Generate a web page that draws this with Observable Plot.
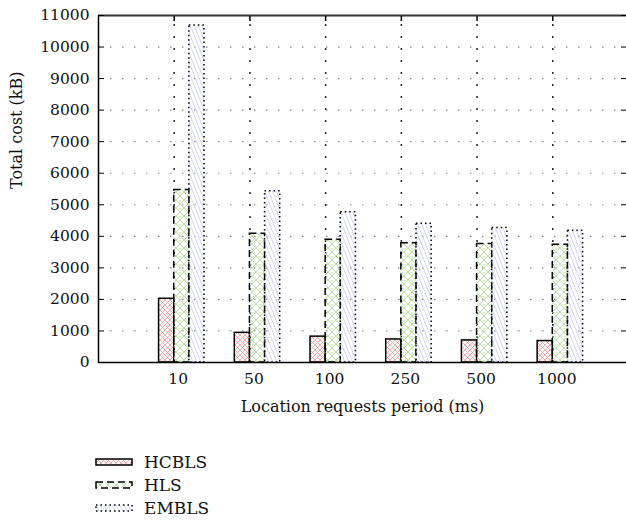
<!DOCTYPE html>
<html><head><meta charset="utf-8">
<script src="https://cdn.jsdelivr.net/npm/d3@7"></script>
<script src="https://cdn.jsdelivr.net/npm/@observablehq/plot@0.6"></script>
<style>
body{margin:0;background:#fff;font-family:"DejaVu Serif",serif;}
#legend{padding-top:10px;margin-left:96px;}
.row{display:flex;align-items:center;height:23px;font-size:17px;color:#111;}
.row svg{margin-right:12px;overflow:visible;}
</style></head><body>
<svg width="0" height="0" style="position:absolute">
<defs>
<pattern id="pRed" patternUnits="userSpaceOnUse" width="5" height="5">
<path d="M-1,-1L6,6M6,-1L-1,6" stroke="#f29a9a" stroke-width="0.8" fill="none"/>
</pattern>
<pattern id="pGreen" patternUnits="userSpaceOnUse" width="8" height="8">
<path d="M-1,-1L9,9M9,-1L-1,9" stroke="#b3dc98" stroke-width="0.9" fill="none"/>
<circle cx="4" cy="0" r="1.2" stroke="#b3dc98" stroke-width="0.7" fill="none"/>
</pattern>
<pattern id="pBlue" patternUnits="userSpaceOnUse" width="4" height="10">
<path d="M-4,0L0,10M0,0L4,10M4,0L8,10" stroke="#c3c9ee" stroke-width="0.8" fill="none"/>
</pattern>
</defs>
</svg>
<div id="chart"></div>
<div id="legend"></div>
<script>
const categories = ["10", "50", "100", "250", "500", "1000"];
const series = ["HCBLS", "HLS", "EMBLS"];
const hcbls = [2020, 940, 820, 730, 700, 680];
const hls = [5470, 4080, 3890, 3780, 3760, 3730];
const embls = [10680, 5430, 4760, 4400, 4260, 4180];
const yTicks = [0, 1000, 2000, 3000, 4000, 5000, 6000, 7000, 8000, 9000, 10000, 11000];
const yTickLabels = ["0", "1000", "2000", "3000", "4000", "5000", "6000", "7000", "8000", "9000", "10000", "11000"];
const xLabel = "Location requests period (ms)";
const yLabel = "Total cost (kB)";

const barW = 0.2;
const offsets = [-0.2, 0, 0.2];
const values = [hcbls, hls, embls];
const rows = [];
categories.forEach((c, i) => {
  series.forEach((s, j) => {
    rows.push({cat: c, series: s, x1: i + offsets[j], x2: i + offsets[j] + barW, y: values[j][i]});
  });
});
const idx = categories.map((_, i) => i);
const styles = {
  HCBLS: {fill: "url(#pRed)", dash: null},
  HLS: {fill: "url(#pGreen)", dash: "7,4"},
  EMBLS: {fill: "url(#pBlue)", dash: "1.5,3"}
};
const font = "DejaVu Serif";

const chart = Plot.plot({
  width: 626, height: 440,
  marginLeft: 98, marginRight: 0, marginTop: 15, marginBottom: 78,
  x: {domain: [-1, 6], range: [98, 628], label: null},
  y: {domain: [0, 11000], range: [362, 15], label: null},
  style: {fontFamily: font, fontSize: "15.5px", color: "#111", background: "white"},
  marks: [
    Plot.ruleY(yTicks.filter(v => v > 0 && v < 11000), {stroke: "#8a8a8a", strokeWidth: 1.2, strokeDasharray: "1.5,10.5"}),
    Plot.ruleX(idx, {x: d => d, stroke: "#222", strokeWidth: 1.5, strokeDasharray: "2,10", strokeDashoffset: 3}),
    ...series.map(s => Plot.rectY(rows.filter(r => r.series === s), {
      x1: "x1", x2: "x2", y: "y",
      fill: styles[s].fill, stroke: "#000", strokeWidth: 1.5,
      strokeDasharray: styles[s].dash
    })),
    Plot.ruleY([0], {stroke: "#000", strokeWidth: 1.5}),
    Plot.ruleY([11000], {stroke: "#333", strokeWidth: 1.8}),
    Plot.ruleX([-1], {stroke: "#000", strokeWidth: 1.5}),
    Plot.axisY({anchor: "left", ticks: yTicks, tickSize: 6, dx: 6, label: null, tickFormat: () => "", stroke: "#000"}),
    Plot.axisY({anchor: "right", ticks: yTicks, tickSize: 6, dx: -6, label: null, tickFormat: () => "", stroke: "#000"}),
    Plot.axisX({anchor: "top", ticks: idx, tickSize: 5, dy: 5, label: null, tickFormat: () => "", stroke: "#000", strokeWidth: 1.5}),
    Plot.axisY({anchor: "left", ticks: yTicks, tickSize: 0, tickPadding: 9, label: null,
      tickFormat: d => yTickLabels[yTicks.indexOf(d)], fill: "#111"}),
    Plot.axisX({anchor: "bottom", ticks: idx, tickSize: 0, tickPadding: 10, dx: 4, label: null,
      tickFormat: d => categories[d], fill: "#111"}),
    Plot.text([xLabel], {frameAnchor: "bottom", dy: 49, fontSize: 16, fill: "#111"}),
    Plot.text([yLabel], {frameAnchor: "left", dx: -82, rotate: -90, fontSize: 16, fill: "#111"})
  ]
});
document.getElementById("chart").appendChild(chart);

const legend = d3.select("#legend");
series.forEach(s => {
  const row = legend.append("div").attr("class", "row");
  const sw = row.append("svg").attr("width", 36).attr("height", 8);
  sw.append("rect").attr("x", 0).attr("y", 1).attr("width", 36).attr("height", 6)
    .attr("fill", styles[s].fill).attr("stroke", "#000").attr("stroke-width", 1.5)
    .attr("stroke-dasharray", styles[s].dash);
  row.append("span").text(s);
});
</script>
</body></html>
